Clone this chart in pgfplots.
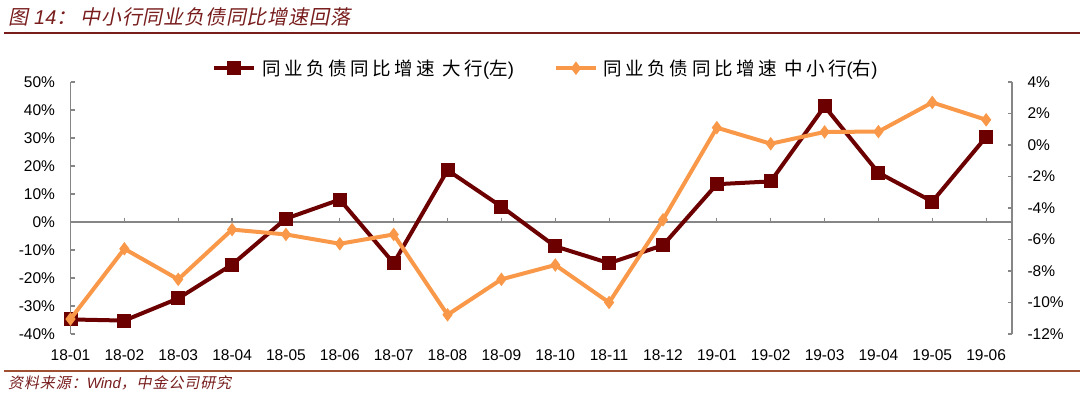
\documentclass[border=0pt]{standalone}
\usepackage{pgfplots}
\pgfplotsset{compat=1.18}
\usepackage{pgfplotstable}
\usepackage{fontspec}
\setmainfont{Liberation Sans}
\newfontfamily\cjk[LetterSpace=19]{Noto Sans CJK SC}
\newfontfamily\cjkit[FakeSlant=0.2, LetterSpace=4]{Noto Sans CJK SC}
\newfontfamily\cjksrc[FakeSlant=0.2, LetterSpace=6]{Noto Sans CJK SC}
\definecolor{dred}{RGB}{108,0,0}
\definecolor{orng}{RGB}{248,152,72}
\definecolor{axgray}{RGB}{134,134,134}
\definecolor{titlered}{RGB}{120,28,28}
\definecolor{srcline}{RGB}{160,80,50}

\pgfplotstableread{
x big small
0 -34.8 -11.05
1 -35.2 -6.59
2 -27.3 -8.53
3 -15.2 -5.37
4 1.2 -5.68
5 8.0 -6.27
6 -14.7 -5.68
7 18.5 -10.78
8 5.5 -8.53
9 -8.7 -7.62
10 -14.7 -10.0
11 -8.3 -4.75
12 13.5 1.1
13 14.5 0.08
14 41.3 0.83
15 17.6 0.85
16 7.3 2.7
17 30.4 1.6
}\data

\begin{document}
\begin{tikzpicture}
\path[use as bounding box] (0,0) rectangle (1080bp,397bp);
% title
\node[anchor=base west, inner sep=0, text=titlered, font=\fontsize{20bp}{24bp}\selectfont] at (8bp,372bp)
  {{\cjkit 图}\hspace{6bp}{\itshape 14}{\cjkit ：}\hspace{4bp}{\cjkit 中小行同业负债同比增速回落}};
\draw[titlered, line width=1.8bp] (4bp,364bp) -- (1080bp,364bp);
% source
\draw[srcline, line width=1.5bp] (4bp,26bp) -- (1080bp,26bp);
\node[anchor=base west, inner sep=0, text=titlered, font=\fontsize{15bp}{18bp}\selectfont] at (8bp,9bp)
  {{\cjksrc 资料来源：}{\itshape Wind}{\cjksrc ，中金公司研究}};

% zero line with ticks
\begin{axis}[
  at={(70.5bp,63bp)}, anchor=south west, scale only axis,
  width=941.5bp, height=252bp,
  xmin=0, xmax=17.48, ymin=-40, ymax=50,
  axis x line=middle, axis y line=none,
  axis line style={-, axgray, line width=1.3bp},
  xtick={0,...,17}, xticklabels={},
  xtick align=inside, major tick length=4bp,
  tick style={axgray, line width=1.2bp},
]
\end{axis}

% left axis
\begin{axis}[
  at={(70.5bp,63bp)}, anchor=south west, scale only axis,
  width=941.5bp, height=252bp,
  xmin=0, xmax=17.48, ymin=-40, ymax=50,
  axis y line*=left, axis x line*=bottom,
  x axis line style={draw=none},
  y axis line style={-, axgray, line width=1.3bp},
  xtick={0,...,17},
  xticklabels={18-01,18-02,18-03,18-04,18-05,18-06,18-07,18-08,18-09,18-10,18-11,18-12,19-01,19-02,19-03,19-04,19-05,19-06},
  xtick style={draw=none},
  ytick={-40,-30,...,50},
  ytick style={axgray, line width=1.2bp},
  tick align=inside, major tick length=4bp,
  yticklabel={\pgfmathprintnumber{\tick}\%},
  /pgf/number format/assume math mode=true,
  ticklabel style={font=\fontsize{15.5bp}{18bp}\selectfont, text=black},
  yticklabel style={xshift=-12bp},
  xticklabel style={yshift=-12bp},
]
\addplot[dred, line width=4bp, mark=square*, mark size=5bp, mark options={solid}] table[x=x, y=big] {\data};
\end{axis}

% right axis
\begin{axis}[
  at={(70.5bp,63bp)}, anchor=south west, scale only axis,
  width=941.5bp, height=252bp,
  xmin=0, xmax=17.48, ymin=-12, ymax=4,
  axis y line*=right, axis x line=none,
  y axis line style={-, axgray, line width=1.3bp},
  ytick={-12,-10,...,4},
  ytick style={axgray, line width=1.2bp},
  tick align=inside, major tick length=4bp,
  yticklabel={\pgfmathprintnumber{\tick}\%},
  /pgf/number format/assume math mode=true,
  ticklabel style={font=\fontsize{15.5bp}{18bp}\selectfont, text=black},
  yticklabel style={xshift=12bp},
  legend style={at={(0.505,1)}, anchor=south, yshift=1bp, draw=none, fill=none,
    font=\fontsize{18.5bp}{22bp}\selectfont, legend columns=2,
    /tikz/every odd column/.append style={column sep=4bp},
    /tikz/every even column/.append style={column sep=38bp}},
  legend image code/.code={\draw[#1, mark repeat=2, mark phase=2] plot coordinates {(0bp,0bp) (20bp,0bp) (40bp,0bp)};},
]
\addlegendimage{dred, line width=4bp, mark=square*, mark size=5bp}
\addlegendentry{{\cjk 同业负债同比增速 大行}({\cjk 左})}
\addplot[orng, line width=4bp, mark=diamond*, mark size=3.5bp] table[x=x, y=small] {\data};
\addlegendentry{{\cjk 同业负债同比增速 中小行}({\cjk 右})}
\end{axis}
\end{tikzpicture}
\end{document}
